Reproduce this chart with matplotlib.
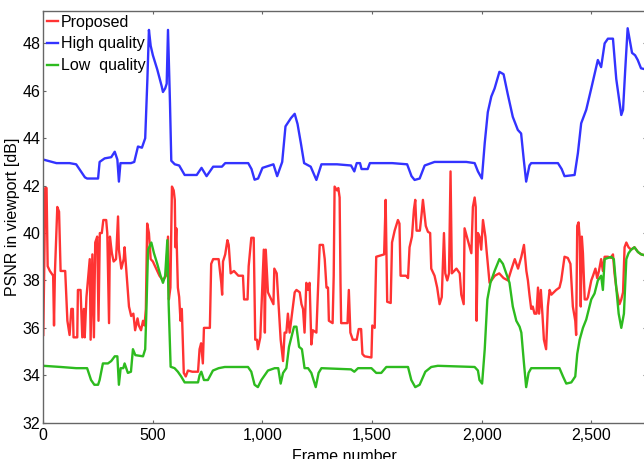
import matplotlib
matplotlib.use("Agg")
import matplotlib.pyplot as plt
from matplotlib.ticker import FuncFormatter, FixedLocator

plt.rcParams['font.family'] = ['Liberation Sans', 'DejaVu Sans']

# ---------------- data ----------------
hq_frames = [0, 60, 120, 150, 190, 200, 250, 257, 280, 310, 326, 338, 345, 352, 380, 400, 415, 432,
             450, 465, 475, 482, 490, 500, 520, 540, 546, 556, 563, 569, 578, 584, 600, 620, 645,
             660, 700, 722, 745, 775, 815, 830, 900, 935, 950, 964, 980, 1000, 1050, 1067, 1090,
             1105, 1130, 1147, 1160, 1175, 1190, 1220, 1246, 1269, 1300, 1340, 1404, 1419, 1430,
             1445, 1452, 1480, 1490, 1550, 1592, 1660, 1680, 1694, 1717, 1740, 1785, 1850, 1930,
             1968, 1983, 2001, 2014, 2028, 2044, 2059, 2081, 2100, 2119, 2142, 2165, 2180, 2192,
             2203, 2218, 2226, 2300, 2348, 2365, 2378, 2424, 2439, 2454, 2477, 2500, 2530, 2545,
             2561, 2576, 2599, 2614, 2637, 2645, 2655, 2666, 2686, 2700, 2712, 2727, 2750]
hq_psnr = [43.1, 42.95, 42.95, 42.9, 42.35, 42.3, 42.3, 43.0, 43.15, 43.2, 43.43, 43.1, 42.17, 42.95,
           42.95, 42.95, 43.0, 43.65, 43.6, 44.0, 46.5, 48.57, 47.9, 47.5, 46.9, 46.2, 45.95, 46.1,
           46.3, 48.57, 45.5, 43.05, 42.9, 42.85, 42.45, 42.45, 42.45, 42.75, 42.4, 42.8, 42.8,
           42.95, 42.95, 42.95, 42.7, 42.25, 42.3, 42.75, 42.9, 42.4, 43.0, 44.5, 44.85, 45.03,
           44.6, 43.8, 42.95, 42.8, 42.24, 42.9, 42.9, 42.9, 42.85, 42.6, 42.95, 42.95, 42.7,
           42.7, 42.95, 42.95, 42.95, 42.9, 42.4, 42.24, 42.3, 42.85, 43.0, 43.0, 43.0, 42.95,
           42.6, 42.3, 43.8, 45.1, 45.76, 46.1, 46.8, 46.7, 45.86, 44.9, 44.35, 44.2, 43.1, 42.17,
           42.85, 42.95, 42.95, 42.95, 42.7, 42.4, 42.45, 43.37, 44.63, 45.2, 46.1, 47.3, 47.0,
           48.0, 48.2, 48.2, 46.5, 44.98, 45.2, 46.9, 48.64, 47.6, 47.5, 47.3, 46.95, 46.9]

prop_frames = [0, 4, 9, 15, 20, 30, 45, 49, 53, 64, 72, 79, 100, 110, 120, 128, 135, 138, 155, 158,
               170, 178, 185, 189, 197, 212, 216, 224, 231, 237, 246, 252, 258, 267, 274, 287, 292,
               300, 304, 313, 321, 332, 341, 345, 356, 367, 371, 382, 391, 401, 411, 419, 430, 436,
               446, 455, 462, 468, 474, 482, 490, 500, 515, 530, 546, 560, 569, 573, 580, 587, 595,
               600, 603, 607, 614, 620, 626, 632, 641, 650, 660, 680, 706, 713, 720, 728, 733, 760,
               766, 775, 800, 812, 816, 820, 830, 840, 846, 855, 870, 890, 911, 916, 932, 937, 949,
               960, 967, 975, 979, 990, 1006, 1011, 1015, 1025, 1040, 1050, 1054, 1065, 1074, 1083,
               1094, 1101, 1109, 1116, 1124, 1135, 1147, 1155, 1170, 1178, 1185, 1192, 1200, 1208,
               1215, 1223, 1230, 1246, 1261, 1276, 1284, 1292, 1299, 1303, 1320, 1325, 1329, 1340,
               1346, 1352, 1356, 1359, 1388, 1394, 1401, 1412, 1430, 1439, 1450, 1456, 1466, 1497,
               1501, 1512, 1519, 1555, 1562, 1569, 1585, 1591, 1603, 1618, 1625, 1630, 1655, 1664,
               1671, 1682, 1691, 1697, 1703, 1718, 1726, 1732, 1745, 1755, 1765, 1770, 1785, 1797,
               1808, 1818, 1828, 1834, 1843, 1851, 1858, 1864, 1885, 1900, 1907, 1918, 1922, 1937,
               1953, 1960, 1968, 1973, 1977, 1983, 1990, 1998, 2006, 2017, 2022, 2029, 2036, 2044,
               2060, 2080, 2100, 2120, 2135, 2151, 2166, 2181, 2193, 2204, 2211, 2218, 2226, 2233,
               2241, 2250, 2257, 2262, 2270, 2277, 2284, 2294, 2302, 2310, 2318, 2340, 2355, 2363,
               2378, 2393, 2405, 2416, 2427, 2431, 2436, 2442, 2447, 2452, 2457, 2462, 2470, 2480,
               2485, 2500, 2508, 2519, 2527, 2535, 2545, 2553, 2561, 2576, 2591, 2599, 2606, 2614,
               2622, 2629, 2637, 2645, 2652, 2660, 2670, 2682, 2697, 2713, 2728, 2750]
prop_psnr = [35.7, 38.3, 41.9, 41.9, 38.6, 38.4, 38.2, 36.1, 38.3, 41.1, 40.9, 38.4, 38.4, 36.3,
             35.7, 36.8, 36.8, 35.6, 35.6, 37.6, 37.6, 35.6, 36.8, 35.6, 37.3, 38.9, 35.5, 39.1,
             35.6, 39.6, 39.85, 36.3, 40.0, 40.0, 40.55, 40.55, 40.0, 36.2, 39.85, 39.15, 38.8,
             38.9, 40.7, 39.3, 38.5, 38.9, 39.4, 38.0, 36.9, 36.5, 36.6, 35.9, 36.4, 36.1, 35.9,
             36.3, 36.1, 36.8, 40.4, 40.0, 38.9, 38.8, 38.5, 38.2, 38.0, 38.2, 39.85, 37.2, 37.7,
             41.96, 41.8, 41.4, 39.4, 40.2, 37.7, 37.3, 36.3, 36.8, 34.1, 33.95, 34.2, 34.15, 34.15,
             35.1, 35.35, 34.5, 36.0, 36.0, 38.7, 38.9, 38.9, 37.9, 37.4, 38.8, 39.1, 39.7, 39.5,
             38.3, 38.4, 38.2, 38.2, 37.2, 37.2, 38.6, 39.8, 39.8, 35.5, 35.5, 35.1, 35.6, 39.3,
             35.8, 39.3, 37.5, 37.2, 37.0, 38.5, 38.3, 36.9, 35.5, 34.6, 35.8, 35.8, 36.6, 35.8,
             36.6, 37.5, 37.6, 37.5, 37.0, 36.8, 35.8, 37.9, 37.6, 37.9, 35.3, 35.9, 35.8, 39.5,
             39.5, 38.9, 37.7, 37.7, 36.3, 36.2, 38.2, 41.96, 41.8, 41.9, 41.5, 37.9, 36.2, 36.2,
             37.6, 35.8, 35.5, 35.5, 35.95, 35.95, 34.9, 34.8, 34.75, 36.1, 36.0, 39.0, 39.1, 41.4,
             37.1, 37.05, 39.6, 40.1, 40.55, 40.4, 38.2, 38.2, 38.1, 39.4, 39.85, 41.0, 41.4, 40.1,
             40.1, 40.8, 41.4, 40.3, 40.05, 40.0, 38.5, 38.2, 37.7, 37.0, 37.3, 40.0, 38.3, 38.0,
             38.3, 42.6, 38.3, 38.5, 38.3, 37.4, 37.0, 40.2, 39.7, 39.15, 41.1, 41.5, 41.1, 36.3,
             40.0, 39.85, 39.3, 40.55, 39.85, 39.3, 38.6, 37.9, 38.0, 38.2, 38.3, 38.1, 38.0, 38.45,
             38.9, 38.5, 39.0, 39.5, 38.4, 38.0, 37.4, 36.8, 36.9, 36.6, 36.6, 37.7, 36.6, 37.6,
             36.6, 35.5, 35.1, 36.9, 37.6, 37.4, 37.6, 37.7, 38.0, 39.0, 38.95, 38.7, 36.9, 36.3,
             35.7, 40.3, 40.45, 39.85, 36.9, 39.85, 39.15, 37.2, 37.2, 37.3, 38.0, 38.2, 38.5, 38.1,
             38.4, 38.9, 38.4, 39.0, 39.0, 38.95, 39.1, 38.3, 37.7, 37.3, 37.0, 37.2, 37.5, 39.4,
             39.6, 39.4, 39.3, 39.4, 39.2, 39.1, 39.05]

lq_frames = [0, 80, 150, 200, 218, 233, 250, 257, 272, 295, 310, 326, 338, 345, 353, 365, 371, 386,
             400, 409, 420, 455, 465, 470, 478, 493, 505, 520, 535, 546, 556, 566, 572, 581, 599,
             614, 629, 645, 667, 706, 713, 721, 733, 751, 774, 800, 828, 934, 949, 964, 979, 995,
             1025, 1056, 1072, 1083, 1094, 1109, 1121, 1132, 1144, 1155, 1167, 1180, 1192, 1208,
             1223, 1243, 1256, 1269, 1404, 1419, 1436, 1497, 1519, 1542, 1565, 1664, 1679, 1697,
             1717, 1743, 1770, 1800, 1968, 1983, 1990, 2002, 2014, 2026, 2040, 2059, 2081, 2097,
             2112, 2127, 2142, 2158, 2173, 2181, 2193, 2203, 2214, 2226, 2355, 2371, 2386, 2409,
             2427, 2436, 2447, 2462, 2477, 2500, 2515, 2530, 2545, 2553, 2561, 2576, 2591, 2603,
             2614, 2625, 2637, 2649, 2660, 2670, 2682, 2697, 2713, 2728, 2750]
lq_psnr = [34.4, 34.35, 34.3, 34.3, 33.8, 33.6, 33.6, 33.8, 34.5, 34.5, 34.6, 34.8, 34.8, 33.6, 34.3,
           34.3, 34.5, 34.1, 34.15, 35.1, 34.85, 34.8, 35.1, 36.6, 39.3, 39.6, 39.15, 38.7, 38.2,
           37.9, 38.2, 39.7, 37.0, 34.36, 34.3, 34.15, 33.95, 33.7, 33.7, 33.7, 34.0, 34.15, 33.8,
           33.8, 34.2, 34.3, 34.35, 34.35, 34.15, 33.6, 33.5, 33.8, 34.2, 34.3, 34.3, 33.65, 34.1,
           34.3, 35.2, 35.6, 36.05, 36.05, 35.2, 35.1, 34.3, 34.3, 34.1, 33.5, 34.1, 34.3, 34.25,
           34.15, 34.3, 34.3, 34.1, 34.1, 34.35, 34.35, 33.8, 33.5, 33.6, 34.15, 34.35, 34.4,
           34.35, 34.2, 33.8, 33.65, 35.1, 37.2, 37.9, 38.4, 38.9, 38.7, 38.3, 37.9, 36.9, 36.3,
           36.05, 35.8, 34.5, 33.5, 34.1, 34.3, 34.3, 33.95, 33.65, 33.7, 33.95, 34.9, 35.5, 36.0,
           36.35, 37.2, 37.45, 38.0, 38.2, 37.6, 38.9, 38.95, 39.0, 38.9, 37.7, 36.6, 36.0, 36.6,
           38.9, 39.15, 39.3, 39.4, 39.2, 39.1, 39.05]

x_ticks = [0, 500, 1000, 1500, 2000, 2500]
y_ticks = [32, 34, 36, 38, 40, 42, 44, 46, 48]
series_labels = ["Proposed", "High quality", "Low  quality"]
series_colors = ["#ff3333", "#3333ff", "#2dbb1f"]

# ---------------- figure ----------------
fig = plt.figure(figsize=(6.44, 4.59), dpi=100)
ax = fig.add_axes([0.0672, 0.0791, 0.936, 0.8976])

ax.plot(prop_frames, prop_psnr, color=series_colors[0], lw=1.7, label=series_labels[0])
ax.plot(hq_frames, hq_psnr, color=series_colors[1], lw=1.7, label=series_labels[1])
ax.plot(lq_frames, lq_psnr, color=series_colors[2], lw=1.7, label=series_labels[2])

ax.set_xlim(0, 2750)
ax.set_ylim(32, 49.38)
ax.xaxis.set_major_locator(FixedLocator(x_ticks))
ax.yaxis.set_major_locator(FixedLocator(y_ticks))
ax.xaxis.set_major_formatter(FuncFormatter(lambda v, p: f"{int(v):,}"))

for s in ax.spines.values():
    s.set_color("#666666")
    s.set_linewidth(1.0)
ax.tick_params(axis='both', which='major', labelsize=11.5, length=2.5, width=0.8,
               color="#666666", direction='in', pad=2, top=True, right=True)
ax.tick_params(axis='x', pad=4)

ax.set_xlabel("Frame number", fontsize=11.5, labelpad=4)
ax.set_ylabel("PSNR in viewport [dB]", fontsize=11.5, labelpad=2)

leg = ax.legend(loc='upper left', frameon=False, fontsize=11.5, handlelength=0.7,
                handletextpad=0.15, labelspacing=0.42, borderaxespad=0.15, borderpad=0.1)

fig.savefig("out.png", dpi=100)
